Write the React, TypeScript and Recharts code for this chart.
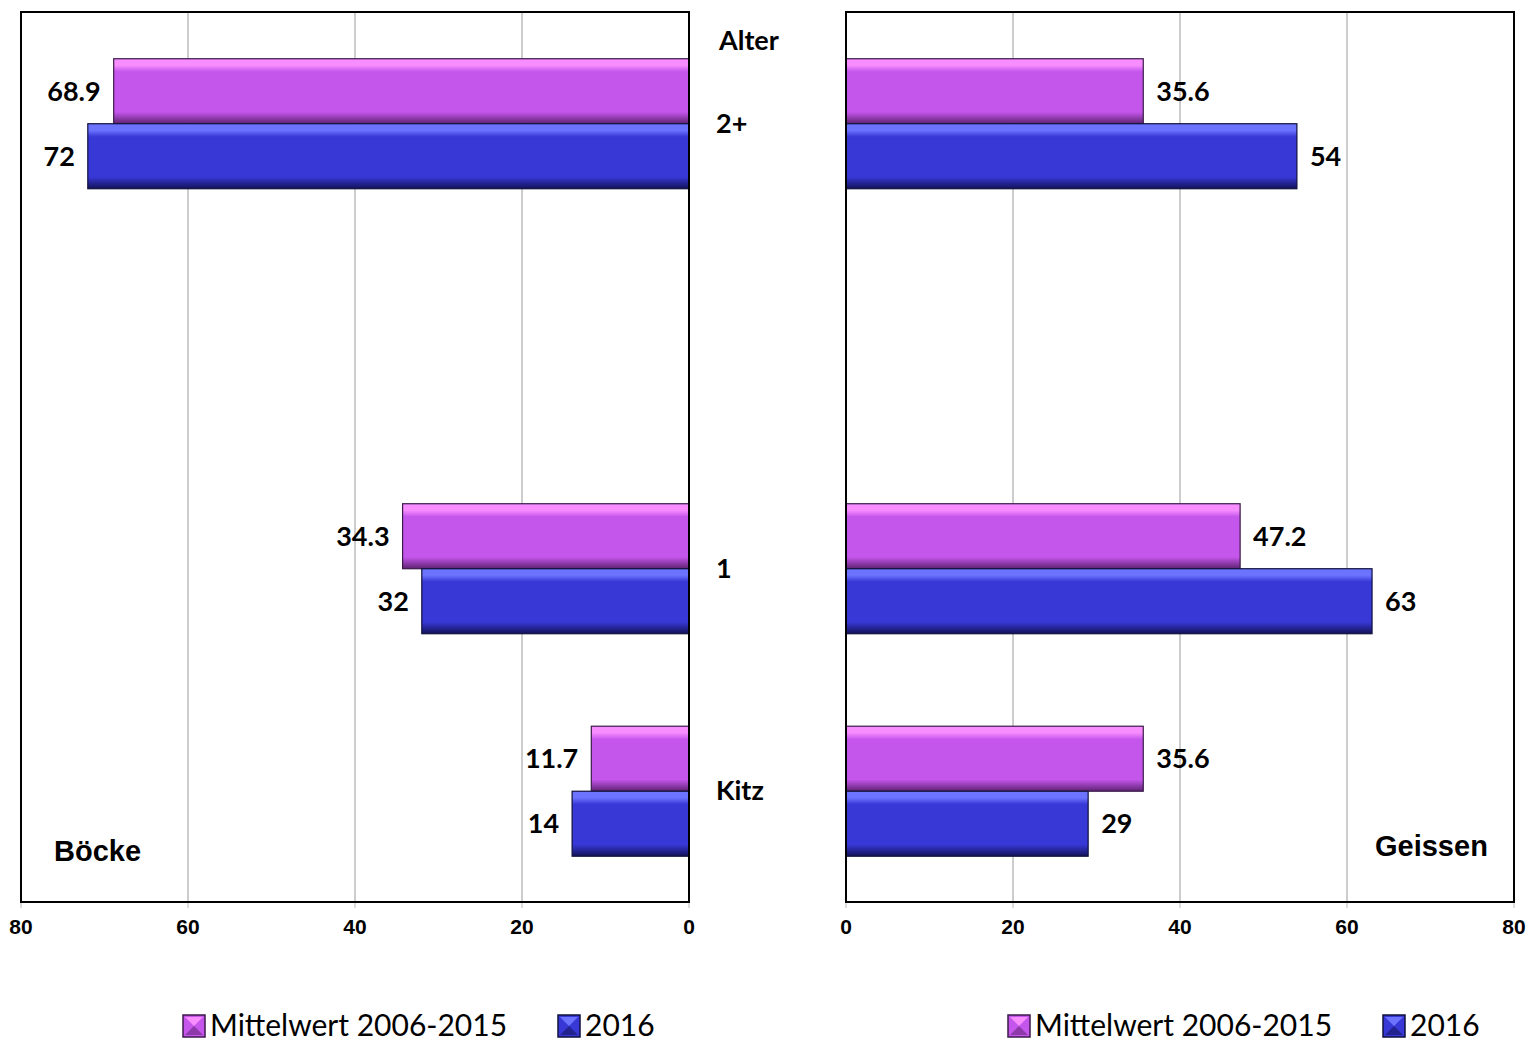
import React from "react";
import { BarChart, Bar, XAxis, YAxis, CartesianGrid, LabelList } from "recharts";

// Altersklassen (die zweite Zeile bleibt im Original leer)
const ageGroups = ["2+", "", "1", "Kitz"];
const boeckeMittel = [68.9, null, 34.3, 11.7];
const boecke2016 = [72, null, 32, 14];
const geissenMittel = [35.6, null, 47.2, 35.6];
const geissen2016 = [54, null, 63, 29];
const xTicks = [0, 20, 40, 60, 80];
const seriesKeys = ["mittel", "y2016"] as const;
const seriesNames = ["Mittelwert 2006-2015", "2016"];

const boeckeData = ageGroups.map((age, i) => ({ age, mittel: boeckeMittel[i], y2016: boecke2016[i] }));
const geissenData = ageGroups.map((age, i) => ({ age, mittel: geissenMittel[i], y2016: geissen2016[i] }));

const PALETTE: Record<string, { light: string; main: string; dark: string; edge: string }> = {
  mittel: { light: "#f78dff", main: "#c556ec", dark: "#5e2372", edge: "#3b1a4a" },
  y2016: { light: "#6c74ff", main: "#3838d6", dark: "#121258", edge: "#10103c" },
};

const LABEL_FONT = "Lato, 'Open Sans', sans-serif";
const ARIAL_FONT = "'Liberation Sans', Arial, sans-serif";

const Gradients = ({ prefix }: { prefix: string }) => (
  <defs>
    {seriesKeys.map((k) => (
      <linearGradient key={k} id={`${prefix}-${k}`} x1="0" y1="0" x2="0" y2="1">
        <stop offset="0" stopColor={PALETTE[k].light} />
        <stop offset="0.1" stopColor={PALETTE[k].light} />
        <stop offset="0.2" stopColor={PALETTE[k].main} />
        <stop offset="0.82" stopColor={PALETTE[k].main} />
        <stop offset="1" stopColor={PALETTE[k].dark} />
      </linearGradient>
    ))}
  </defs>
);

const bevelBar = (prefix: string, key: string) => (p: any) => {
  const { x, y, width, height } = p;
  if (!width || !height) return <g />;
  const x0 = Math.min(x, x + width);
  const w = Math.abs(width);
  return (
    <rect x={x0} y={y} width={w} height={height} fill={`url(#${prefix}-${key})`} stroke={PALETTE[key].edge} strokeWidth={1.2} />
  );
};

const valueLabel = (side: "left" | "right") => (p: any) => {
  const { x, y, width, height, value } = p;
  if (value == null) return null;
  const x0 = Math.min(x, x + width);
  const x1 = Math.max(x, x + width);
  return (
    <text
      x={side === "left" ? x0 - 13 : x1 + 13}
      y={y + height / 2}
      dy="0.36em"
      textAnchor={side === "left" ? "end" : "start"}
      fill="#000"
      fontFamily={LABEL_FONT}
      fontWeight={700}
      fontSize={27}
    >
      {value}
    </text>
  );
};

const AgeTick = (p: any) => (
  <text x={p.x} y={p.y} dy="0.36em" textAnchor="start" fill="#000" fontFamily={LABEL_FONT} fontWeight={700} fontSize={27}>
    {p.payload.value}
  </text>
);

const axisTick = { fill: "#000", fontSize: 21, fontWeight: 700, fontFamily: ARIAL_FONT };

function Panel({ data, side, prefix }: { data: any[]; side: "left" | "right"; prefix: string }) {
  const left = side === "left";
  return (
    <BarChart
      width={left ? 800 : 759}
      height={1000}
      data={data}
      layout="vertical"
      barCategoryGap="21%"
      barGap={0}
      margin={left ? { top: 12, right: 40, left: 21, bottom: 58 } : { top: 12, right: 15, left: 76, bottom: 58 }}
    >
      <Gradients prefix={prefix} />
      <CartesianGrid horizontal={false} stroke="#9a9a9a" />
      <XAxis
        type="number"
        domain={[0, 80]}
        ticks={xTicks}
        reversed={left}
        axisLine={false}
        tickLine={{ stroke: "#bbb" }}
        tickSize={6}
        tickMargin={11}
        height={40}
        tick={axisTick}
      />
      {left ? (
        <YAxis
          type="category"
          dataKey="age"
          orientation="right"
          width={71}
          axisLine={false}
          tickLine={false}
          tickSize={0}
          tickMargin={27}
          tick={AgeTick}
        />
      ) : (
        <YAxis type="category" dataKey="age" hide />
      )}
      {seriesKeys.map((k, i) => (
        <Bar key={k} dataKey={k} name={seriesNames[i]} fill={PALETTE[k].main} shape={bevelBar(prefix, k)} isAnimationActive={false}>
          <LabelList dataKey={k} content={valueLabel(side)} />
        </Bar>
      ))}
    </BarChart>
  );
}

const LegendRow = ({ x }: { x: number }) => (
  <g>
    {seriesKeys.map((k, i) => {
      const mx = x + i * 375;
      const my = 1015;
      const c = PALETTE[k];
      return (
        <g key={k}>
          <rect x={mx} y={my} width={22} height={22} fill={c.main} stroke={c.edge} strokeWidth={1.5} />
          <polygon points={`${mx + 2},${my + 2} ${mx + 20},${my + 2} ${mx + 11},${my + 11}`} fill={c.light} />
          <polygon points={`${mx + 2},${my + 20} ${mx + 20},${my + 20} ${mx + 11},${my + 11}`} fill={c.dark} opacity={0.55} />
          <text x={mx + 27} y={1036} fontFamily={LABEL_FONT} fontSize={30} fill="#000">
            {seriesNames[i]}
          </text>
        </g>
      );
    })}
  </g>
);

export default function App() {
  return (
    <div style={{ position: "absolute", left: 0, top: 0, width: 1529, height: 1042, background: "#fff", overflow: "hidden" }}>
      <div style={{ position: "absolute", left: 0, top: 0 }}>
        <Panel data={boeckeData} side="left" prefix="boecke" />
      </div>
      <div style={{ position: "absolute", left: 770, top: 0 }}>
        <Panel data={geissenData} side="right" prefix="geissen" />
      </div>
      <svg width={1529} height={1042} style={{ position: "absolute", left: 0, top: 0, pointerEvents: "none" }}>
        <rect x={21} y={12} width={668} height={890} fill="none" stroke="#000" strokeWidth={2} />
        <rect x={846} y={12} width={668} height={890} fill="none" stroke="#000" strokeWidth={2} />
        <text x={719} y={50} fontFamily={LABEL_FONT} fontWeight={700} fontSize={27} fill="#000">
          Alter
        </text>
        <text x={54} y={861} fontFamily={ARIAL_FONT} fontWeight={700} fontSize={29} fill="#000">
          Böcke
        </text>
        <text x={1375} y={856} fontFamily={ARIAL_FONT} fontWeight={700} fontSize={29} fill="#000">
          Geissen
        </text>
        <LegendRow x={183} />
        <LegendRow x={1008} />
      </svg>
    </div>
  );
}
